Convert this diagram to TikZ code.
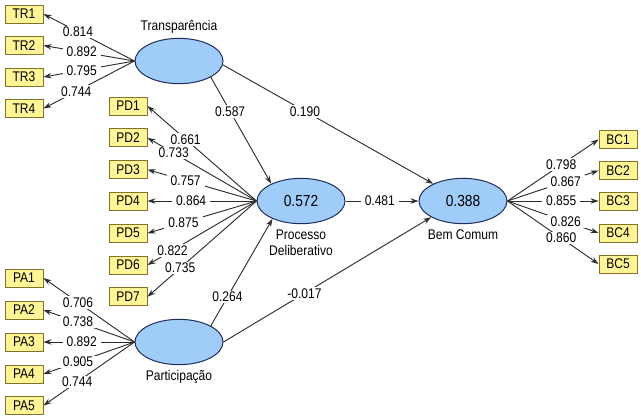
\documentclass[tikz,border=0pt]{standalone}
\usepackage{fontspec}
\setmainfont{Liberation Sans}[FakeStretch=0.86]
\usetikzlibrary{arrows.meta,positioning,shapes.geometric}

\definecolor{latfill}{RGB}{160,204,250}
\definecolor{latdraw}{RGB}{30,45,90}
\definecolor{indfill}{RGB}{255,245,150}
\definecolor{inddraw}{RGB}{130,115,40}
\definecolor{pathcol}{RGB}{45,45,45}

\tikzset{
  latent/.style={ellipse, draw=latdraw, fill=latfill, line width=0.75pt,
    minimum width=66pt, minimum height=34pt, inner sep=0pt, font=\fontsize{12}{14}\selectfont},
  indicator/.style={rectangle, draw=inddraw, fill=indfill, line width=0.7pt,
    minimum width=28.5pt, minimum height=13.5pt, inner sep=0pt},
  latname/.style={align=center, inner sep=1pt},
  coef/.style={fill=white, inner xsep=3pt, inner ysep=1pt},
  path/.style={draw=pathcol, line width=0.7pt, -{Stealth[length=6pt,width=4pt]}}
}

\begin{document}
\begin{tikzpicture}[x=0.75pt, y=-0.75pt, font=\fontsize{10.5}{12}\selectfont]
  \useasboundingbox (0,0) rectangle (641,419);

  % latent variables
  \node (trans) [latent] at (179,61) {};
  \node (proc) [latent] at (301,201) {0.572};
  \node (bem) [latent] at (463,201) {0.388};
  \node (part) [latent] at (179,342) {};
  \node (transname) [latname, above=2pt of trans] {Transparência};
  \node (procname) [latname, below=3pt of proc] {Processo\\Deliberativo};
  \node (bemname) [latname, below=3pt of bem] {Bem Comum};
  \node (partname) [latname, below=3pt of part] {Participação};

  % indicators
  \node (tr1) [indicator] at (24,14) {TR1};
  \node (tr2) [indicator] at (24,45.5) {TR2};
  \node (tr3) [indicator] at (24,77) {TR3};
  \node (tr4) [indicator] at (24,108.5) {TR4};

  \node (pd1) [indicator] at (128,106) {PD1};
  \node (pd2) [indicator] at (128,137.8) {PD2};
  \node (pd3) [indicator] at (128,169.6) {PD3};
  \node (pd4) [indicator] at (128,201) {PD4};
  \node (pd5) [indicator] at (128,233.2) {PD5};
  \node (pd6) [indicator] at (128,265) {PD6};
  \node (pd7) [indicator] at (128,296.8) {PD7};

  \node (pa1) [indicator] at (24,278) {PA1};
  \node (pa2) [indicator] at (24,310) {PA2};
  \node (pa3) [indicator] at (24,342) {PA3};
  \node (pa4) [indicator] at (24,374) {PA4};
  \node (pa5) [indicator] at (24,405.5) {PA5};

  \node (bc1) [indicator] at (618,139.5) {BC1};
  \node (bc2) [indicator] at (618,170.5) {BC2};
  \node (bc3) [indicator] at (618,201) {BC3};
  \node (bc4) [indicator] at (618,233) {BC4};
  \node (bc5) [indicator] at (618,264) {BC5};

  % outer loadings
  \draw[path] (trans.west) -- node[coef, pos=0.62] {0.814} (tr1.east);
  \draw[path] (trans.west) -- node[coef, pos=0.58] {0.892} (tr2.east);
  \draw[path] (trans.west) -- node[coef, pos=0.58] {0.795} (tr3.east);
  \draw[path] (trans.west) -- node[coef, pos=0.64] {0.744} (tr4.east);

  \draw[path] (proc.west) -- node[coef, pos=0.65] {0.661} (pd1.east);
  \draw[path] (proc.west) -- node[coef, pos=0.76] {0.733} (pd2.east);
  \draw[path] (proc.west) -- node[coef, pos=0.65] {0.757} (pd3.east);
  \draw[path] (proc.west) -- node[coef, pos=0.6] {0.864} (pd4.east);
  \draw[path] (proc.west) -- node[coef, pos=0.67] {0.875} (pd5.east);
  \draw[path] (proc.west) -- node[coef, pos=0.77] {0.822} (pd6.east);
  \draw[path] (proc.west) -- node[coef, pos=0.7] {0.735} (pd7.east);

  \draw[path] (part.west) -- node[coef, pos=0.62] {0.706} (pa1.east);
  \draw[path] (part.west) -- node[coef, pos=0.62] {0.738} (pa2.east);
  \draw[path] (part.west) -- node[coef, pos=0.58] {0.892} (pa3.east);
  \draw[path] (part.west) -- node[coef, pos=0.62] {0.905} (pa4.east);
  \draw[path] (part.west) -- node[coef, pos=0.63] {0.744} (pa5.east);

  \draw[path] (bem.east) -- node[coef, pos=0.59] {0.798} (bc1.west);
  \draw[path] (bem.east) -- node[coef, pos=0.64] {0.867} (bc2.west);
  \draw[path] (bem.east) -- node[coef, pos=0.59] {0.855} (bc3.west);
  \draw[path] (bem.east) -- node[coef, pos=0.64] {0.826} (bc4.west);
  \draw[path] (bem.east) -- node[coef, pos=0.59] {0.860} (bc5.west);

  % inner model
  \draw[path] (trans.-27) -- node[coef, pos=0.32] {0.587} (proc.150);
  \draw[path] (trans.-5) -- node[coef, pos=0.39] {0.190} (bem.150);
  \draw[path] (proc.east) -- node[coef, pos=0.47] {0.481} (bem.west);
  \draw[path] (part.27) -- node[coef, pos=0.27] {0.264} (proc.212);
  \draw[path] (part.east) -- node[coef, pos=0.39] {-0.017} (bem.207);
\end{tikzpicture}
\end{document}
